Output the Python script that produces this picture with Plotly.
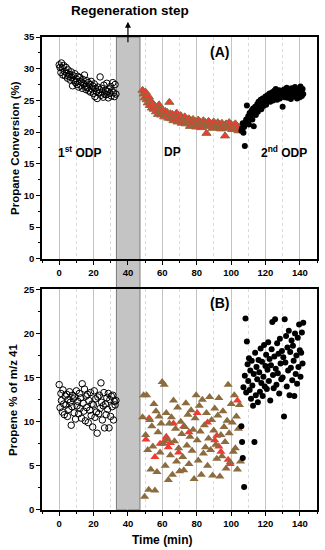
import plotly.graph_objects as go

# ---------------- data ----------------
# phase 1: 1st ODP (time, min)
odp1_x = [0, 0.5, 1, 1.3, 1.8, 2.2, 2.6, 3, 3.5, 4,
          4.4, 4.8, 5.2, 5.6, 6, 6.5, 7, 7.4, 7.8, 8.2,
          8.7, 9.1, 9.5, 10, 10.4, 10.8, 11.3, 11.7, 12.1, 12.6,
          13, 13.4, 13.9, 14.3, 14.7, 15.2, 15.6, 16, 16.5, 16.9,
          17.3, 17.8, 18.2, 18.6, 19.1, 19.5, 19.9, 20.4, 20.8, 21.2,
          21.7, 22.1, 22.5, 23, 23.4, 23.8, 24.3, 24.7, 25.1, 25.6,
          26, 26.4, 26.9, 27.3, 27.7, 28.2, 28.6, 29, 29.5, 29.9,
          30.3, 30.8, 31.2, 31.6, 32.1, 32.5, 33]
odp1_conv = [30.6, 30.2, 29.4, 30.9, 30.1, 29.0, 30.5, 29.6, 28.9, 30.2,
             29.3, 28.5, 29.8, 28.8, 29.1, 28.2, 29.5, 28.6, 27.3, 28.9,
             28.1, 29.2, 27.8, 28.4, 27.5, 28.8, 27.1, 28.0, 28.6, 27.4,
             27.9, 26.9, 28.3, 27.6, 29.0, 27.2, 26.7, 28.1, 27.0, 27.8,
             26.5, 27.5, 26.3, 28.0, 26.8, 27.3, 26.1, 27.6, 25.6, 26.9,
             26.4, 25.3, 27.1, 26.2, 26.7, 28.7, 25.8, 26.9, 26.3, 25.5,
             27.4, 26.0, 26.6, 25.9, 27.7, 26.4, 25.4, 26.8, 26.1, 27.2,
             25.7, 26.5, 27.8, 26.2, 25.6, 27.5, 26.0]
odp1_prop = [14.2, 11.6, 13.2, 12.4, 11.1, 13.6, 12.0, 10.8, 12.9, 11.9,
             13.1, 10.6, 12.5, 11.4, 13.4, 12.2, 9.6, 11.7, 13.0, 12.6,
             11.0, 12.8, 10.3, 13.5, 11.8, 12.3, 10.9, 13.2, 11.5, 12.7,
             10.4, 14.3, 12.1, 11.2, 13.7, 10.1, 12.9, 11.6, 13.1, 9.9,
             12.4, 11.3, 13.3, 10.7, 12.0, 9.4, 11.9, 13.5, 10.5, 12.6,
             11.1, 8.7, 12.8, 10.9, 13.0, 11.5, 14.4, 12.2, 10.2, 11.8,
             13.3, 9.3, 12.0, 10.8, 12.7, 11.4, 13.2, 9.3, 12.5, 10.6,
             12.9, 11.7, 13.0, 10.2, 12.3, 11.9, 12.4]

# phase 2: DP
dp_x = [48.5, 49.1, 49.7, 50.3, 50.9, 51.5, 52.1, 52.7, 53.3, 53.9,
        54.5, 55.1, 55.7, 56.3, 56.9, 57.5, 58.1, 58.7, 59.3, 59.9,
        60.5, 61.1, 61.7, 62.3, 62.9, 63.5, 64.1, 64.7, 65.3, 65.9,
        66.5, 67.1, 67.7, 68.3, 68.9, 69.5, 70.1, 70.7, 71.3, 71.9,
        72.5, 73.1, 73.7, 74.3, 74.9, 75.5, 76.1, 76.7, 77.3, 77.9,
        78.5, 79.1, 79.7, 80.3, 80.9, 81.5, 82.1, 82.7, 83.3, 83.9,
        84.5, 85.1, 85.7, 86.3, 86.9, 87.5, 88.1, 88.7, 89.3, 89.9,
        90.5, 91.1, 91.7, 92.3, 92.9, 93.5, 94.1, 94.7, 95.3, 95.9,
        96.5, 97.1, 97.7, 98.3, 98.9, 99.5, 100.1, 100.7, 101.3, 101.9,
        102.5, 103.1, 103.7, 104.3, 104.9, 105.5]
dp_conv = [26.6, 26.0, 25.4, 26.3, 25.1, 24.6, 25.6, 24.2, 24.9, 23.8,
           24.5, 23.6, 24.1, 23.2, 23.9, 22.8, 24.3, 23.4, 22.7, 23.5,
           23.0, 22.4, 23.3, 22.6, 23.1, 22.2, 24.7, 22.9, 22.1, 22.8,
           21.8, 22.5, 22.0, 23.0, 21.6, 22.3, 21.9, 22.6, 21.4, 22.2,
           21.7, 22.4, 21.3, 22.0, 21.5, 22.1, 20.9, 21.8, 21.4, 22.0,
           21.2, 21.7, 20.8, 21.5, 21.9, 21.1, 21.6, 20.7, 21.3, 21.8,
           21.0, 21.5, 19.8, 21.2, 21.7, 20.9, 21.4, 21.1, 20.6, 21.6,
           21.0, 21.3, 20.7, 21.5, 20.9, 21.2, 20.5, 21.4, 20.8, 21.1,
           19.4, 21.3, 20.6, 21.0, 21.5, 20.8, 21.2, 20.4, 21.0, 20.7,
           21.3, 20.5, 20.9, 20.2, 20.7, 20.3]
dp_prop = [10.5, 13.0, 1.5, 8.5, 13.0, 6.8, 2.3, 10.2, 4.6, 9.5,
           7.2, 12.0, 2.2, 11.2, 4.3, 8.8, 10.6, 6.5, 9.8, 14.5,
           7.5, 14.2, 5.0, 11.0, 8.0, 3.4, 9.8, 6.2, 10.5, 4.0,
           12.4, 7.8, 9.2, 5.5, 11.6, 7.0, 4.4, 10.0, 8.6, 6.0,
           4.5, 9.4, 12.1, 7.3, 10.8, 5.2, 8.3, 11.3, 6.7, 9.1,
           3.5, 10.4, 13.0, 7.9, 5.6, 11.8, 8.9, 4.0, 12.5, 6.4,
           9.6, 7.1, 11.0, 5.0, 8.1, 12.8, 6.8, 10.2, 3.9, 9.0,
           11.5, 7.4, 5.8, 10.7, 12.7, 3.8, 8.5, 6.1, 11.2, 9.4,
           7.7, 4.7, 10.1, 14.2, 8.7, 5.4, 12.0, 9.9, 6.6, 13.0,
           7.0, 10.6, 4.6, 9.2, 11.9, 5.5]
dp_red_x = [50.5, 52.3, 55.7, 58.7, 61.1, 62.3, 63.5, 64.7, 66.5, 69.5,
            72.5, 75.5, 80.3, 86.3, 90.5, 91.7, 92.9, 94.1, 98.3, 99.5, 103.7]
dp_red_prop = [8.0, 10.4, 6.0, 7.5, 7.8, 8.3, 7.1, 7.6, 9.8, 6.5,
               9.5, 8.8, 11.0, 9.9, 7.9, 8.4, 7.2, 6.6, 5.7, 5.2, 12.4]

# phase 3: 2nd ODP
odp2_x = [106.0, 106.4, 106.8, 107.2, 107.6, 108.0, 108.4, 108.8, 109.2, 109.6,
          110.0, 110.4, 110.8, 111.2, 111.6, 112.0, 112.4, 112.8, 113.2, 113.6,
          114.0, 114.4, 114.8, 115.2, 115.6, 116.0, 116.4, 116.8, 117.2, 117.6,
          118.0, 118.4, 118.8, 119.2, 119.6, 120.0, 120.4, 120.8, 121.2, 121.6,
          122.0, 122.4, 122.8, 123.2, 123.6, 124.0, 124.4, 124.8, 125.2, 125.6,
          126.0, 126.4, 126.8, 127.2, 127.6, 128.0, 128.4, 128.8, 129.2, 129.6,
          130.0, 130.4, 130.8, 131.2, 131.6, 132.0, 132.4, 132.8, 133.2, 133.6,
          134.0, 134.4, 134.8, 135.2, 135.6, 136.0, 136.4, 136.8, 137.2, 137.6,
          138.0, 138.4, 138.8, 139.2, 139.6, 140.0, 140.4, 140.8, 141.2, 141.6,
          142.0]
odp2_conv = [20.2, 20.6, 21.4, 19.9, 20.8, 17.8, 21.5, 22.0, 24.2, 21.8,
             22.5, 21.2, 23.0, 22.3, 22.8, 23.4, 22.0, 23.7, 20.9, 23.1,
             24.0, 22.7, 23.6, 24.4, 23.2, 24.8, 23.9, 24.3, 25.1, 23.6,
             24.6, 25.3, 24.1, 25.0, 24.7, 25.6, 24.3, 25.2, 25.8, 24.9,
             25.5, 26.1, 24.8, 25.7, 25.2, 26.3, 25.0, 25.9, 26.5, 25.4,
             26.8, 25.6, 25.1, 26.2, 25.8, 26.6, 25.3, 26.0, 25.7, 26.4,
             24.0, 25.9, 26.7, 25.5, 26.2, 25.8, 27.0, 25.4, 26.1, 26.6,
             25.7, 26.3, 25.2, 26.9, 25.9, 26.4, 25.6, 26.1, 27.1, 25.8,
             26.5, 25.3, 26.2, 25.9, 26.7, 25.5, 27.2, 26.3, 25.7, 26.8,
             26.0]
odp2_prop = [9.5, 7.7, 5.9, 13.9, 2.6, 15.2, 21.7, 13.3, 19.1, 16.5,
             14.6, 17.2, 13.6, 15.8, 12.6, 16.9, 14.1, 11.8, 15.4, 7.7,
             17.8, 13.0, 16.2, 14.8, 12.2, 17.0, 15.6, 13.4, 18.3, 14.4,
             16.8, 12.9, 15.1, 18.7, 14.0, 16.3, 17.6, 13.7, 15.9, 19.0,
             14.6, 17.1, 12.4, 16.4, 18.2, 21.3, 15.3, 13.8, 17.4, 21.6,
             16.0, 14.2, 18.9, 15.5, 17.7, 13.2, 19.4, 16.6, 14.8, 18.0,
             15.0, 17.3, 10.6, 21.6, 16.7, 19.7, 14.0, 18.4, 15.8, 20.3,
             13.0, 17.9, 16.1, 19.2, 14.7, 18.6, 16.9, 12.9, 20.0, 15.4,
             17.5, 14.3, 19.5, 16.2, 21.0, 18.1, 15.1, 17.8, 20.1, 16.6,
             21.2]

x_ticks = [0, 20, 40, 60, 80, 100, 120, 140]
regen_start, regen_end = 33.3, 47.0

# ---------------- figure ----------------
FONT = "Liberation Sans, Arial, sans-serif"
BROWN = "#8C6B3E"
RED = "#F03A34"

fig = go.Figure()

circ = dict(symbol="circle-open", size=6.5, color="black", line=dict(width=1))
tri_top = dict(symbol="triangle-up", size=8, color=RED, line=dict(color=BROWN, width=1))
tri_b = dict(symbol="triangle-up", size=8, color=BROWN, line=dict(width=0))
tri_r = dict(symbol="triangle-up", size=8, color=RED, line=dict(width=0))
dot = dict(symbol="circle", size=6, color="black")

fig.add_trace(go.Scatter(x=odp1_x, y=odp1_conv, mode="markers", marker=circ, xaxis="x", yaxis="y"))
fig.add_trace(go.Scatter(x=dp_x, y=dp_conv, mode="markers", marker=tri_top, xaxis="x", yaxis="y"))
fig.add_trace(go.Scatter(x=odp2_x, y=odp2_conv, mode="markers", marker=dot, xaxis="x", yaxis="y"))

fig.add_trace(go.Scatter(x=odp1_x, y=odp1_prop, mode="markers", marker=circ, xaxis="x2", yaxis="y2"))
fig.add_trace(go.Scatter(x=dp_red_x, y=dp_red_prop, mode="markers", marker=tri_r, xaxis="x2", yaxis="y2"))
fig.add_trace(go.Scatter(x=dp_x, y=dp_prop, mode="markers", marker=tri_b, xaxis="x2", yaxis="y2"))
fig.add_trace(go.Scatter(x=odp2_x, y=odp2_prop, mode="markers", marker=dot, xaxis="x2", yaxis="y2"))

tickfont = dict(family=FONT, size=9.5, color="black", weight="bold")
xcommon = dict(
    range=[-10, 150], tickvals=x_ticks, showline=True, linecolor="black", linewidth=1.5,
    mirror=True, ticks="outside", ticklen=4, tickwidth=1.2, tickcolor="black",
    showgrid=True, gridcolor="#C4C4C4", gridwidth=1, zeroline=False, tickfont=tickfont,
    automargin=False,
    minor=dict(dtick=10, tick0=0, ticks="outside", ticklen=2, tickcolor="black",
               showgrid=True, gridcolor="#DADADA", griddash="dot", gridwidth=1),
)
ycommon = dict(
    showline=True, linecolor="black", linewidth=1.5, mirror=True, ticks="outside",
    ticklen=4, tickwidth=1.2, tickcolor="black", showgrid=False, zeroline=False,
    tickfont=tickfont, automargin=False,
    minor=dict(dtick=2.5, tick0=0, ticks="outside", ticklen=2, tickcolor="black"),
)

fig.update_layout(
    width=325, height=550, showlegend=False,
    paper_bgcolor="white", plot_bgcolor="white",
    margin=dict(l=42, r=8, t=37, b=40, autoexpand=False),
    font=dict(family=FONT, color="black"),
    xaxis=dict(xcommon, domain=[0, 1], anchor="y"),
    yaxis=dict(ycommon, domain=[0.531, 1], range=[0, 35], dtick=5, anchor="x"),
    xaxis2=dict(xcommon, domain=[0, 1], anchor="y2"),
    yaxis2=dict(ycommon, domain=[0, 0.4666], range=[0, 25], dtick=5, anchor="x2"),
)

fig.add_shape(type="rect", xref="x", yref="paper", x0=regen_start, x1=regen_end,
              y0=0, y1=1, fillcolor="#C4C4C4", line=dict(color="#7A7A7A", width=1),
              layer="below")

bold = dict(family=FONT, color="black", weight="bold")
C = dict(xanchor="center", yanchor="middle", showarrow=False)
# axis titles
fig.add_annotation(x=-0.098, xref="paper", y=0.7655, yref="paper",
                   text="Propane Conversion (%)", textangle=-90,
                   font=dict(bold, size=11.5), **C)
fig.add_annotation(x=-0.108, xref="paper", y=0.2333, yref="paper",
                   text="Propene % of m/z 41", textangle=-90,
                   font=dict(bold, size=11.5), **C)
fig.add_annotation(x=0.436, xref="paper", y=-0.0634, yref="paper",
                   text="Time (min)", font=dict(bold, size=12), **C)
# labels
fig.add_annotation(x=41, xref="x", y=1.057, yref="paper", text="Regeneration step",
                   font=dict(bold, size=13.5), **C)
fig.add_annotation(x=40, xref="x", y=1.032, yref="paper", text="", showarrow=True,
                   ax=0, ay=22, arrowhead=2, arrowsize=1, arrowwidth=1.2, arrowcolor="black")
fig.add_annotation(x=93, xref="x", y=32.6, yref="y", text="(A)",
                   font=dict(bold, size=14), **C)
fig.add_annotation(x=93, xref="x2", y=23.5, yref="y2", text="(B)",
                   font=dict(bold, size=14), **C)
fig.add_annotation(x=12, xref="x", y=16.9, yref="y", text="1<sup>st</sup> ODP",
                   font=dict(bold, size=12), **C)
fig.add_annotation(x=66, xref="x", y=16.9, yref="y", text="DP",
                   font=dict(bold, size=12), **C)
fig.add_annotation(x=131, xref="x", y=16.9, yref="y", text="2<sup>nd</sup> ODP",
                   font=dict(bold, size=12), **C)

# remove the browser's default 8px body margin so the figure fills the window
fig.write_html("out.html", config={"displayModeBar": False},
               post_script="document.body.style.margin='0';")
